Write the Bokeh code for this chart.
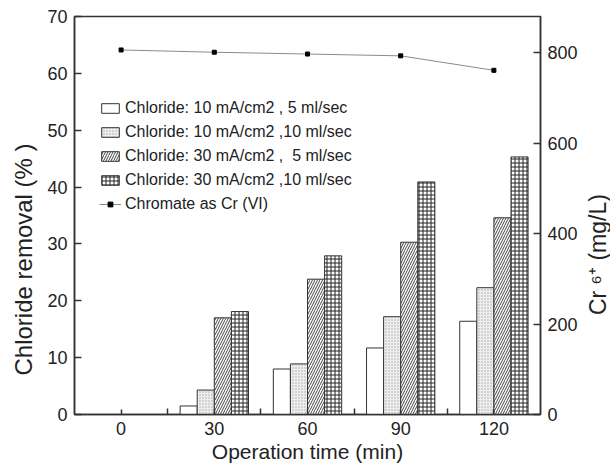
import math
from bokeh.plotting import figure
from bokeh.layouts import row
from bokeh.models import (ColumnDataSource, LinearAxis, Range1d, FixedTicker,
                          Legend, LegendItem, Title, Label)
from bokeh.transform import dodge
from bokeh.embed import file_html
from bokeh.resources import INLINE

# ---- data ----
times = [0, 30, 60, 90, 120]
cl_10_5 = [0, 1.5, 8.0, 11.7, 16.4]
cl_10_10 = [0, 4.3, 8.9, 17.2, 22.3]
cl_30_5 = [0, 17.0, 23.8, 30.3, 34.6]
cl_30_10 = [0, 18.1, 27.9, 40.9, 45.3]
chromate = [806, 801, 797, 793, 761]
series_labels = ["Chloride: 10 mA/cm2 , 5 ml/sec",
                 "Chloride: 10 mA/cm2 ,10 ml/sec",
                 "Chloride: 30 mA/cm2 ,  5 ml/sec",
                 "Chloride: 30 mA/cm2 ,10 ml/sec",
                 "Chromate as Cr (VI)"]
x_ticks = [0, 30, 60, 90, 120]
x_minor = [15, 45, 75, 105]
y_ticks = [0, 10, 20, 30, 40, 50, 60, 70]
cr_ticks = [0, 200, 400, 600, 800]
x_title = "Operation time (min)"
y_title = "Chloride removal (% )"
cr_title = "Cr \u2076\u207a (mg/L)"

FONT = "Liberation Sans"
TXT = "#222222"
AX = "#333333"

src = ColumnDataSource(dict(t=times, a=cl_10_5, b=cl_10_10, c=cl_30_5, d=cl_30_10, cr=chromate))

p = figure(width=580, height=468, x_range=Range1d(-15, 135), y_range=Range1d(0, 70),
           output_backend="svg", toolbar_location=None,
           min_border_left=73, min_border_right=40, min_border_top=16, min_border_bottom=54,
           x_axis_label=x_title)
p.extra_y_ranges = {"cr": Range1d(0, 880)}
p.grid.visible = False
p.outline_line_color = AX
p.outline_line_width = 1.5
p.background_fill_color = "white"
p.border_fill_color = "white"

bw = 5.5
common = dict(source=src, width=bw, line_color=AX, line_width=1)
r1 = p.vbar(x=dodge("t", -1.5 * bw, range=p.x_range), top="a", fill_color="white", **common)
r2 = p.vbar(x=dodge("t", -0.5 * bw, range=p.x_range), top="b", fill_color="#efefef",
            hatch_pattern="dot", hatch_color="#a8a8a8", hatch_scale=3, hatch_weight=1, **common)
r3 = p.vbar(x=dodge("t", 0.5 * bw, range=p.x_range), top="c", fill_color="white",
            hatch_pattern="right_diagonal_line", hatch_color="#444444", hatch_scale=5,
            hatch_weight=1, **common)
r4 = p.vbar(x=dodge("t", 1.5 * bw, range=p.x_range), top="d", fill_color="white",
            hatch_pattern="cross", hatch_color="#222222", hatch_scale=4, hatch_weight=1, **common)

rl = p.line("t", "cr", source=src, y_range_name="cr", line_color="#8a8a8a", line_width=1)
rs = p.scatter("t", "cr", source=src, y_range_name="cr", marker="square", size=4,
               fill_color="black", line_color="black")

# axes styling
xa = p.xaxis[0]
xa.ticker = FixedTicker(ticks=x_ticks, minor_ticks=x_minor)
ya = p.yaxis[0]
ya.ticker = FixedTicker(ticks=y_ticks)

ra = LinearAxis(y_range_name="cr", ticker=FixedTicker(ticks=cr_ticks))
p.add_layout(ra, "right")

for ax in (xa, ya, ra):
    ax.axis_line_color = AX
    ax.axis_line_width = 1.5
    ax.major_tick_line_color = AX
    ax.major_tick_line_width = 1.5
    ax.major_tick_out = 0
    ax.major_tick_in = 7
    ax.minor_tick_line_color = None
    ax.major_label_text_font = FONT
    ax.major_label_text_font_size = "18px"
    ax.major_label_text_color = TXT
    ax.major_label_standoff = 7
    ax.axis_label_text_font = FONT
    ax.axis_label_text_font_size = "21px"
    ax.axis_label_text_font_style = "normal"
    ax.axis_label_text_color = TXT

xa.major_tick_in = 5
xa.minor_tick_line_color = AX
xa.minor_tick_line_width = 1.5
xa.minor_tick_in = 6
xa.minor_tick_out = 0
xa.axis_label_standoff = 2

# left title placed in the left side panel (bottom-anchored, shifted up)
yt = Title(text=y_title, align="left", offset=39, standoff=15,
           text_font=FONT, text_font_size="24px", text_font_style="normal", text_color=TXT)
p.add_layout(yt, "left")

legend = Legend(items=[
    LegendItem(label=series_labels[0], renderers=[r1]),
    LegendItem(label=series_labels[1], renderers=[r2]),
    LegendItem(label=series_labels[2], renderers=[r3]),
    LegendItem(label=series_labels[3], renderers=[r4]),
    LegendItem(label=series_labels[4], renderers=[rl, rs]),
], location=(25, 200))
legend.border_line_color = None
legend.background_fill_alpha = 0
legend.label_text_font = FONT
legend.label_text_font_size = "16px"
legend.label_text_color = TXT
legend.glyph_width = 22
legend.glyph_height = 12
legend.label_height = 20
legend.label_standoff = 4
legend.spacing = 4
legend.padding = 4
legend.margin = 0
p.add_layout(legend, "center")

# narrow strip at the right carrying the rotated right-axis title
p2 = figure(width=30, height=468, x_range=Range1d(0, 30), y_range=Range1d(0, 468),
            output_backend="svg", toolbar_location=None,
            x_axis_location=None, y_axis_location=None, min_border=0)
p2.grid.visible = False
p2.outline_line_color = None
p2.background_fill_color = "white"
p2.border_fill_color = "white"
p2.add_layout(Label(x=17, y=188, text=cr_title, angle=math.pi / 2,
                    text_align="center", text_baseline="middle",
                    text_font=FONT, text_font_size="23px", text_color=TXT))

layout = row(p, p2, spacing=0)
open("out.html", "w").write(file_html(layout, INLINE))
